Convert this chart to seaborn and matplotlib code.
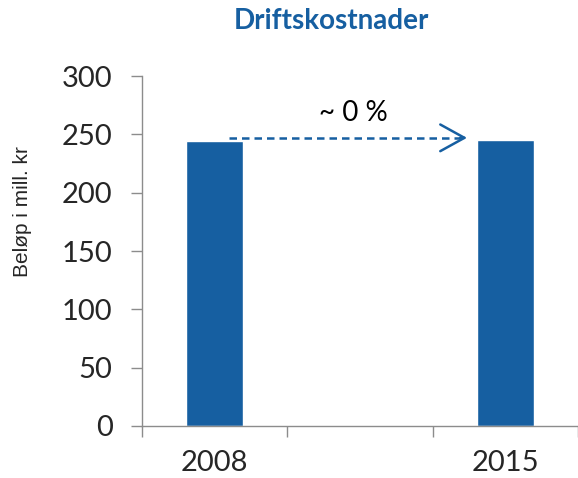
import matplotlib
matplotlib.use("Agg")
import matplotlib.pyplot as plt
import seaborn as sns
import pandas as pd

# data
years = ["2008", "", "2015"]
costs = [244.3, 0, 245.4]
title = "Driftskostnader"
ylabel = "Beløp i mill. kr"
change_label = "~ 0 %"
arrow_level = 247.0

blue = "#165FA1"
gray = "#8C8C8C"

sns.set_theme(style="white")
plt.rcParams['font.family'] = ['Lato', 'DejaVu Sans']

df = pd.DataFrame({"year": years, "cost": costs})

fig = plt.figure(figsize=(5.78, 4.78), dpi=100)
ax = fig.add_axes([141.7 / 578, 52 / 478, 436.3 / 578, 350 / 478])

sns.barplot(ax=ax, data=df, x="year", y="cost", color=blue, saturation=1, width=0.395)

ax.set_xlim(-0.5, 2.458)
ax.set_ylim(0, 300)
ax.set_yticks(range(0, 301, 50))
ax.set_xticks([-0.5, 0.5, 1.5, 2.5], minor=False)
ax.set_xticklabels([])
ax.set_xticks([0, 2], minor=True)
ax.set_xticklabels([years[0], years[2]], minor=True)
ax.tick_params(axis="x", which="minor", length=0, pad=17, labelsize=21)
ax.tick_params(axis="x", which="major", length=8, width=1, color=gray, direction="out")
ax.tick_params(axis="y", length=8, width=1, color=gray, direction="out", pad=13, labelsize=21)
ax.tick_params(bottom=True, left=True, which="major")

for s in ["top", "right"]:
    ax.spines[s].set_visible(False)
for s in ["left", "bottom"]:
    ax.spines[s].set_color(gray)
    ax.spines[s].set_linewidth(1)

ax.set_xlabel("")
ax.set_ylabel("")
fig.text(23 / 578, 1 - 212 / 478, ylabel, rotation=90, ha="center", va="center",
         fontsize=15, family=["Liberation Sans", "DejaVu Sans"])

# dashed shaft + solid open head
ax.plot([0.097, 1.72], [arrow_level, arrow_level], color=blue, lw=1.8,
        linestyle=(0, (3, 2)), solid_capstyle="butt")
ax.annotate("", xy=(1.737, arrow_level), xytext=(1.69, arrow_level),
            arrowprops=dict(arrowstyle="->,head_length=1.45,head_width=0.8", color=blue,
                            lw=1.8, shrinkA=0, shrinkB=0))
ax.text(0.958, 268, change_label, ha="center", va="center", fontsize=20, color="black")

fig.text(331 / 578, 1 - 21 / 478, title, ha="center", va="center",
         fontsize=20, fontweight="bold", color=blue)

fig.savefig("out.png", dpi=100)
